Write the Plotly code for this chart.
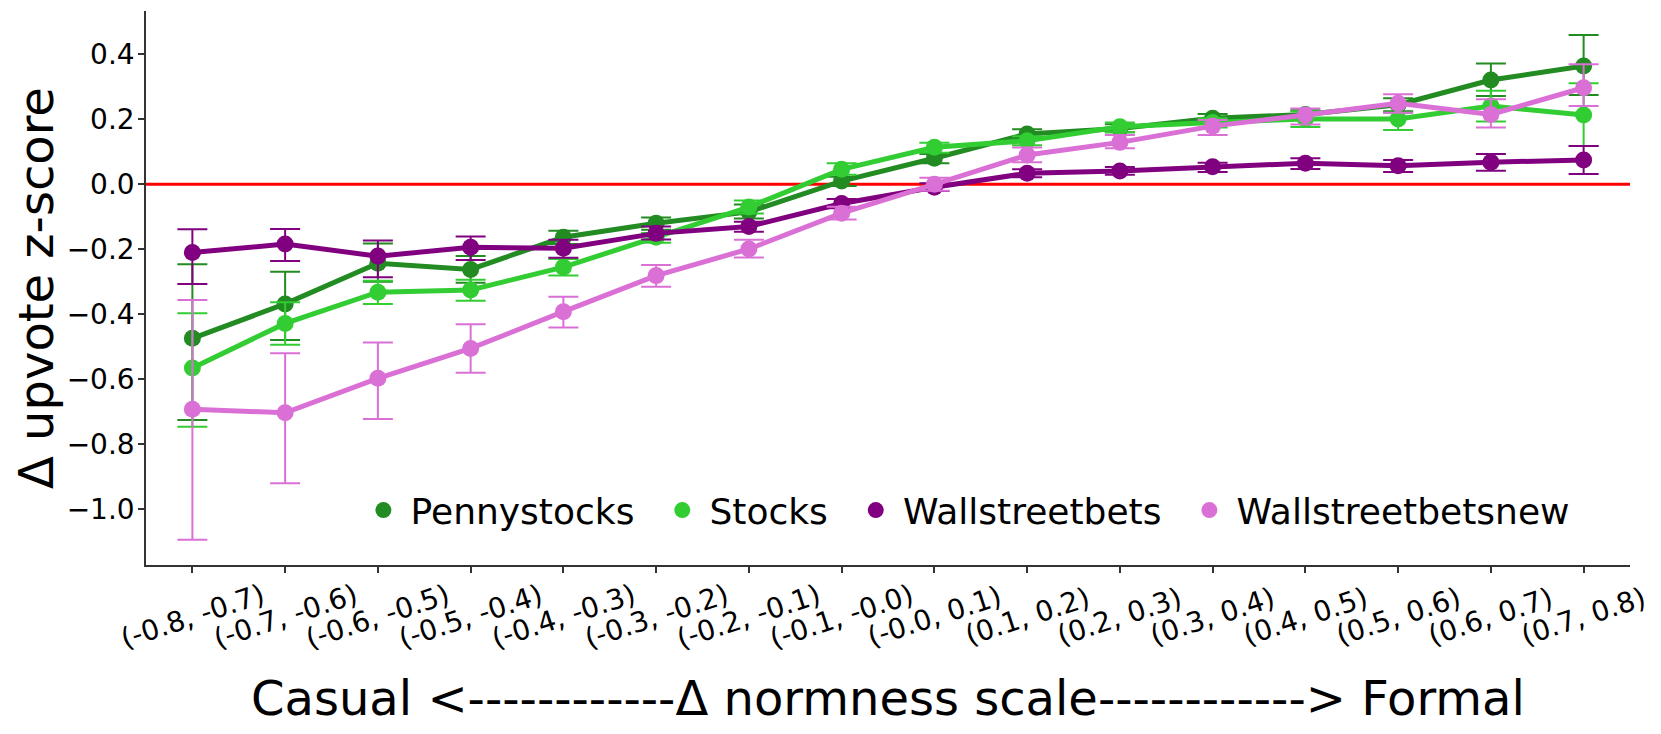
import plotly.graph_objects as go

categories = ["(-0.8, -0.7)", "(-0.7, -0.6)", "(-0.6, -0.5)", "(-0.5, -0.4)", "(-0.4, -0.3)",
              "(-0.3, -0.2)", "(-0.2, -0.1)", "(-0.1, -0.0)", "(-0.0, 0.1)", "(0.1, 0.2)",
              "(0.2, 0.3)", "(0.3, 0.4)", "(0.4, 0.5)", "(0.5, 0.6)", "(0.6, 0.7)", "(0.7, 0.8)"]

penny_mean = [-0.474, -0.368, -0.243, -0.262, -0.163, -0.120, -0.085, 0.010, 0.080, 0.155, 0.172, 0.203, 0.215, 0.245, 0.321, 0.364]
penny_hi   = [-0.246, -0.269, -0.182, -0.221, -0.143, -0.102, -0.062, 0.023, 0.093, 0.169, 0.185, 0.216, 0.228, 0.265, 0.372, 0.459]
penny_lo   = [-0.725, -0.479, -0.300, -0.303, -0.184, -0.140, -0.105, -0.005, 0.065, 0.140, 0.160, 0.187, 0.200, 0.225, 0.272, 0.275]

stocks_mean = [-0.565, -0.428, -0.332, -0.325, -0.255, -0.163, -0.070, 0.046, 0.114, 0.134, 0.177, 0.190, 0.201, 0.201, 0.241, 0.213]
stocks_hi   = [-0.397, -0.363, -0.297, -0.294, -0.230, -0.150, -0.050, 0.065, 0.128, 0.148, 0.190, 0.203, 0.225, 0.220, 0.288, 0.311]
stocks_lo   = [-0.746, -0.494, -0.368, -0.358, -0.281, -0.180, -0.090, 0.029, 0.097, 0.120, 0.160, 0.175, 0.176, 0.167, 0.193, 0.118]

wsb_mean = [-0.210, -0.184, -0.221, -0.194, -0.197, -0.151, -0.130, -0.059, -0.009, 0.034, 0.041, 0.054, 0.065, 0.057, 0.068, 0.075]
wsb_hi   = [-0.138, -0.1375, -0.173, -0.161, -0.171, -0.130, -0.115, -0.045, 0.003, 0.046, 0.053, 0.066, 0.080, 0.075, 0.093, 0.118]
wsb_lo   = [-0.307, -0.236, -0.286, -0.233, -0.226, -0.170, -0.146, -0.074, -0.021, 0.022, 0.029, 0.038, 0.047, 0.038, 0.042, 0.032]

wsbn_mean = [-0.692, -0.703, -0.597, -0.505, -0.392, -0.281, -0.199, -0.089, 0.000, 0.090, 0.129, 0.179, 0.213, 0.249, 0.215, 0.297]
wsbn_hi   = [-0.356, -0.520, -0.487, -0.431, -0.346, -0.248, -0.171, -0.069, 0.020, 0.113, 0.152, 0.198, 0.233, 0.277, 0.262, 0.369]
wsbn_lo   = [-1.094, -0.920, -0.722, -0.580, -0.441, -0.315, -0.225, -0.108, -0.020, 0.068, 0.111, 0.152, 0.184, 0.220, 0.175, 0.241]

series_names = ["Pennystocks", "Stocks", "Wallstreetbets", "Wallstreetbetsnew"]
series_colors = ["#228B22", "#32CD32", "#800080", "#DA70D6"]

y_ticks = [0.4, 0.2, 0.0, -0.2, -0.4, -0.6, -0.8, -1.0]

FONT = "DejaVu Sans"
NB = "\u00a0"
THIN = "\u2009"

fig = go.Figure()
xs = list(range(len(categories)))
data = [(penny_mean, penny_hi, penny_lo), (stocks_mean, stocks_hi, stocks_lo),
        (wsb_mean, wsb_hi, wsb_lo), (wsbn_mean, wsbn_hi, wsbn_lo)]

for (m, hi, lo), name, col in zip(data, series_names, series_colors):
    fig.add_trace(go.Scatter(
        x=xs, y=m, mode="lines+markers", name=name, showlegend=False,
        line=dict(color=col, width=5),
        marker=dict(color=col, size=17),
        error_y=dict(type="data", symmetric=False,
                     array=[h - v for h, v in zip(hi, m)],
                     arrayminus=[v - l for l, v in zip(lo, m)],
                     color=col, thickness=2, width=15),
    ))

for name, col in zip(series_names, series_colors):
    fig.add_trace(go.Scatter(
        x=[None], y=[None], mode="markers", name=THIN + name + NB + NB,
        marker=dict(color=col, size=16), showlegend=True,
    ))

fig.add_shape(type="line", xref="paper", yref="y", x0=0, x1=1, y0=0, y1=0,
              line=dict(color="red", width=3), layer="below")

annotations = []
for i, c in enumerate(categories):
    annotations.append(dict(x=i, xref="x", y=0, yref="paper", yshift=-51,
                            text=c, showarrow=False, textangle=-18,
                            xanchor="center", yanchor="middle",
                            font=dict(family=FONT, size=28, color="black")))
annotations.append(dict(x=0.5, xref="paper", y=0, yref="paper", yshift=-133,
                        text="Casual <------------Δ normness scale------------> Formal",
                        showarrow=False, xanchor="center", yanchor="middle",
                        font=dict(family=FONT, size=48, color="black")))
annotations.append(dict(x=0, xref="paper", y=0.5, yref="paper", xshift=-110,
                        text="Δ upvote z-score", showarrow=False, textangle=-90,
                        xanchor="center", yanchor="middle",
                        font=dict(family=FONT, size=48, color="black")))

# page has an 8px body margin: figure is 1645x718 placed at (8, 8)
fig.update_layout(
    width=1645, height=718,
    margin=dict(l=138, r=23, t=3, b=161),
    paper_bgcolor="white", plot_bgcolor="white",
    font=dict(family=FONT, color="black"),
    showlegend=True,
    legend=dict(orientation="h", x=0.1465, xanchor="left", y=0.099, yanchor="middle",
                font=dict(family=FONT, size=36, color="black"),
                bgcolor="rgba(0,0,0,0)"),
    annotations=annotations,
    xaxis=dict(range=[-0.5, 15.5], tickmode="array", tickvals=xs, showticklabels=False,
               ticks="outside", ticklen=6, tickwidth=1.5, tickcolor="#333",
               showline=True, linecolor="#333", linewidth=1.5, mirror=False,
               showgrid=False, zeroline=False, fixedrange=True),
    yaxis=dict(range=[-1.1714, 0.5332], tickmode="array", tickvals=y_ticks,
               tickformat=".1f", tickfont=dict(family=FONT, size=28, color="black"),
               ticks="outside", ticklen=6, tickwidth=1.5, tickcolor="#333",
               ticklabelstandoff=-2,
               showline=True, linecolor="#333", linewidth=1.5,
               showgrid=False, zeroline=False, fixedrange=True),
)

fig.write_html("out.html")
